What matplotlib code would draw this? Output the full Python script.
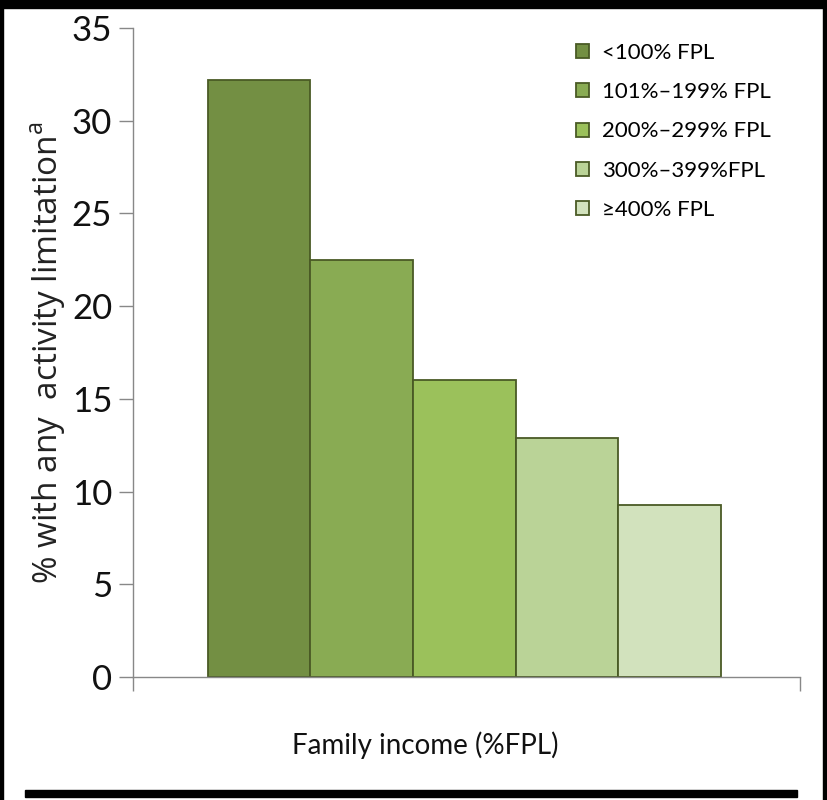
import matplotlib
matplotlib.use('Agg')
import matplotlib.pyplot as plt
from matplotlib.patches import Rectangle, Patch

# data
groups = ['<100% FPL', '101%\u2013199% FPL', '200%\u2013299% FPL', '300%\u2013399%FPL', '\u2265400% FPL']
values = [32.2, 22.5, 16.0, 12.9, 9.3]
colors = ['#738f43', '#89ab53', '#9bc15b', '#bad397', '#d2e2bd']
edge = '#4a5a25'

plt.rcParams['font.family'] = ['Lato', 'DejaVu Sans']

fig = plt.figure(figsize=(8.27, 8.0), dpi=100)
ax = fig.add_axes([0.1608, 0.15375, 0.8062, 0.81125])

x = list(range(len(values)))
ax.bar(x, values, width=1.0, color=colors, edgecolor=edge, linewidth=1.3, zorder=2)

ax.set_xlim(-1.23, 5.27)
ax.set_ylim(0, 35)
ax.set_yticks(range(0, 36, 5))
ax.tick_params(axis='y', labelsize=25, length=10, width=1, color='#888888', pad=5, labelcolor='#111111')
ax.set_xticks([-1.23, 5.27])
ax.set_xticklabels(['', ''])
ax.tick_params(axis='x', length=10, width=1, color='#888888')

for s in ['top', 'right']:
    ax.spines[s].set_visible(False)
for s in ['left', 'bottom']:
    ax.spines[s].set_color('#888888')
    ax.spines[s].set_linewidth(1)

ax.set_ylabel('% with any  activity limitation$^{\\mathregular{a}}$', fontsize=24,
              family=['Open Sans', 'DejaVu Sans'], color='#222222')
ax.yaxis.set_label_coords(-0.097, 0.5)
ax.set_xlabel('Family income (%FPL)', fontsize=20, color='#111111')
ax.xaxis.set_label_coords(0.438, -0.105)
ax.xaxis.label.set_va('center')

handles = [Patch(facecolor=c, edgecolor=edge, linewidth=1.3) for c in colors]
leg = ax.legend(handles, groups, loc='upper left', bbox_to_anchor=(0.634, 1.008),
                frameon=False, fontsize=16, handlelength=0.6, handleheight=0.6,
                handletextpad=0.6, labelspacing=0.87)

# black frame remnants around the picture
fig.patches.append(Rectangle((0, 0.99), 1, 0.01, transform=fig.transFigure, color='black', zorder=10))
fig.patches.append(Rectangle((0, 0), 0.004, 1, transform=fig.transFigure, color='black', zorder=10))
fig.patches.append(Rectangle((0.995, 0), 0.005, 1, transform=fig.transFigure, color='black', zorder=10))
fig.patches.append(Rectangle((0.03, 0.004), 0.934, 0.009, transform=fig.transFigure, color='black', zorder=10))

fig.savefig('out.png', dpi=100)
